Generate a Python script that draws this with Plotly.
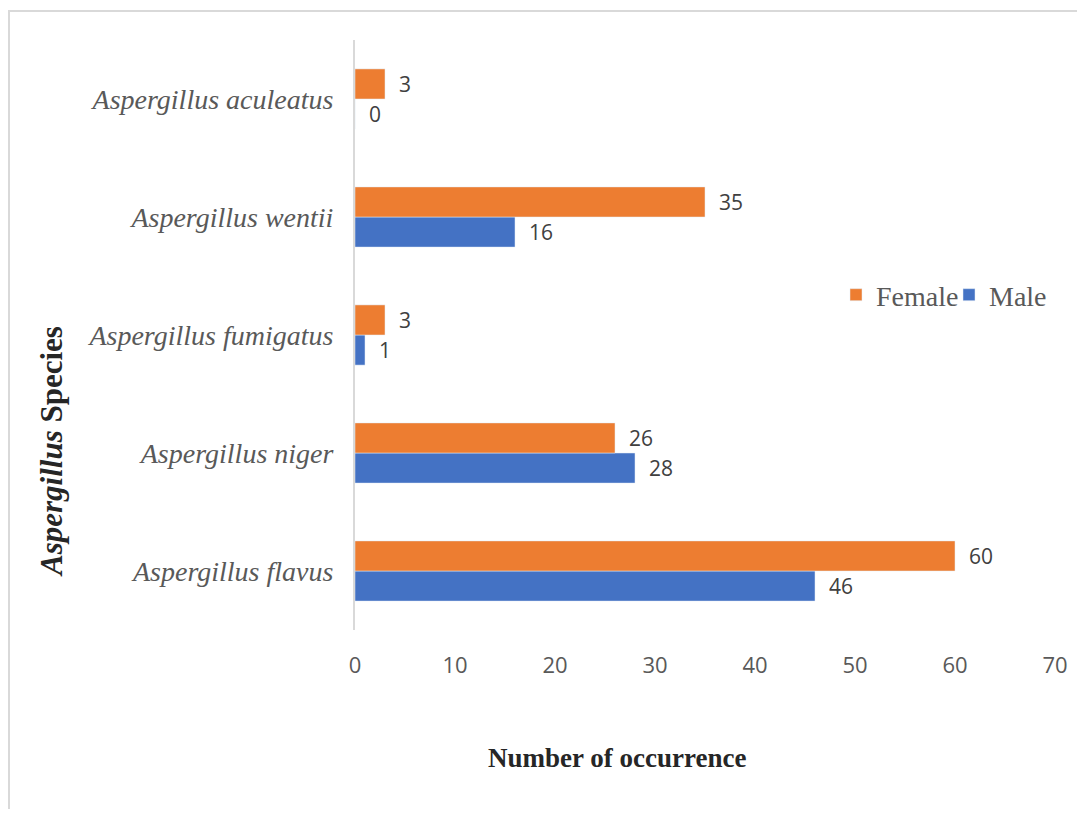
import plotly.graph_objects as go

species = ["Aspergillus flavus", "Aspergillus niger", "Aspergillus fumigatus",
           "Aspergillus wentii", "Aspergillus aculeatus"]
male = [46, 28, 1, 16, 0]
female = [60, 26, 3, 35, 3]
x_ticks = [0, 10, 20, 30, 40, 50, 60, 70]

NB = "\u00a0\u00a0"

W, H = 1069, 801
L, T, PW, PH = 347, 32, 700, 590
R = W - L - PW
B = H - T - PH


def px(x):
    return (x - 8 - L) / PW


def py(y):
    return (T + PH - (y - 8)) / PH


fig = go.Figure()
fig.add_trace(go.Bar(
    y=species, x=male, name="Male", orientation="h",
    marker=dict(color="#4472C4"),
    text=[NB + str(v) for v in male], textposition="outside",
    textfont=dict(family="Open Sans", size=21, color="#404040"),
    cliponaxis=False,
))
fig.add_trace(go.Bar(
    y=species, x=female, name="Female", orientation="h",
    marker=dict(color="#ED7D31"),
    text=[NB + str(v) for v in female], textposition="outside",
    textfont=dict(family="Open Sans", size=21, color="#404040"),
    cliponaxis=False,
))

fig.update_layout(
    width=W, height=H,
    margin=dict(l=L, r=R, t=T, b=B, autoexpand=False),
    paper_bgcolor="white", plot_bgcolor="white",
    barmode="group", bargap=0.49, bargroupgap=0,
    showlegend=True,
    legend=dict(orientation="h", traceorder="reversed",
                x=px(836), xanchor="left", y=py(295), yanchor="middle",
                font=dict(family="Liberation Serif", size=28, color="#595959"),
                itemwidth=30, entrywidth=68, entrywidthmode="pixels",
                bgcolor="rgba(0,0,0,0)"),
    xaxis=dict(range=[0, 70], tickvals=x_ticks, showgrid=False, zeroline=False,
               showline=False, ticks="", automargin=False,
               tickfont=dict(family="Open Sans", size=22, color="#595959"),
               ticklabelstandoff=20),
    yaxis=dict(showgrid=False, zeroline=False, showline=True, linecolor="#D9D9D9",
               linewidth=2, ticks="", automargin=False,
               tickfont=dict(family="Liberation Serif", size=28, color="#595959",
                             style="italic"),
               ticklabelstandoff=14),
    annotations=[
        dict(text="<b>Number of occurrence</b>", xref="paper", yref="paper",
             x=px(617), y=py(758), xanchor="center", yanchor="middle",
             showarrow=False, font=dict(family="Liberation Serif", size=27, color="#262626")),
        dict(text="<b><i>Aspergillus</i> Species</b>", xref="paper", yref="paper",
             x=px(51), y=py(452), xanchor="center", yanchor="middle",
             textangle=-90, showarrow=False,
             font=dict(family="Liberation Serif", size=31, color="#262626")),
    ],
    shapes=[dict(type="rect", xref="paper", yref="paper",
                 x0=px(9), x1=px(1100),
                 y0=py(830), y1=py(11),
                 line=dict(color="#D9D9D9", width=2), layer="below")],
)

fig.write_html("out.html")
